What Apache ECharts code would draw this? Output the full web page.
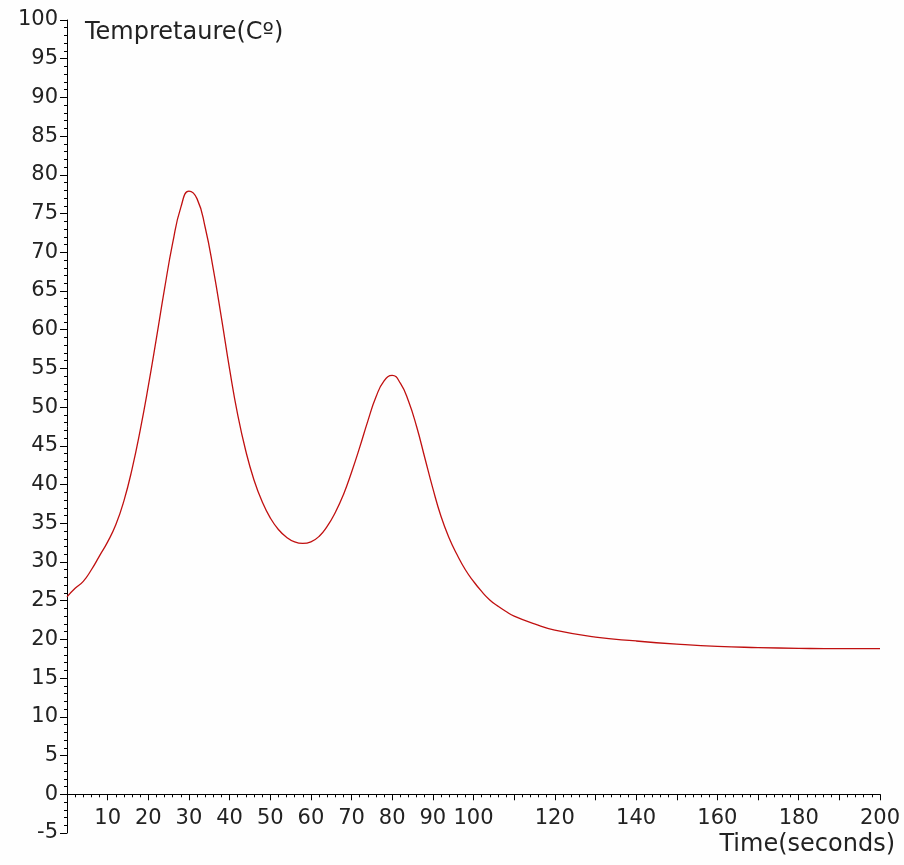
<!DOCTYPE html>
<html>
<head>
<meta charset="utf-8">
<script src="https://cdn.jsdelivr.net/npm/echarts@6/dist/echarts.min.js"></script>
<style>
html,body{margin:0;padding:0;background:#fefefe;}
#chart{width:904px;height:865px;}
</style>
</head>
<body>
<div id="chart"></div>
<script>
const times = [0,2,4,6,8,10,12,14,16,18,20,22,24,26,28,30,32,34,36,38,40,42,44,46,48,50,52,54,56,58,60,62,64,66,68,70,72,74,76,78,80,82,84,86,88,90,92,94,96,98,100,102,104,106,108,110,115,120,130,140,150,160,170,180,190,200];
const temps = [25.5,26.6,27.5,29.0,30.8,32.6,34.8,37.9,42.0,47.0,52.7,58.9,65.3,71.2,75.8,77.9,76.9,73.2,67.8,61.5,54.9,49.0,44.3,40.6,37.8,35.7,34.2,33.2,32.6,32.4,32.6,33.3,34.6,36.4,38.7,41.6,44.8,48.2,51.3,53.4,54.1,53.1,50.8,47.5,43.5,39.5,35.9,33.1,30.9,29.0,27.5,26.2,25.1,24.3,23.6,23.0,22.0,21.2,20.3,19.8,19.4,19.1,18.95,18.85,18.8,18.8];
const xLabels = [10,20,30,40,50,60,70,80,90,100,120,140,160,180,200];
const yTitle = 'Tempretaure(Cº)';
const xTitle = 'Time(seconds)';

const FONT = 'DejaVu Sans';
const labelFmt = v => xLabels.indexOf(v) >= 0 ? String(v) : '';

const chart = echarts.init(document.getElementById('chart'));
chart.setOption({
  backgroundColor: '#fefefe',
  animation: false,
  title: [
    {text: yTitle, left: 80, top: 16, textStyle: {fontFamily: FONT, fontSize: 24, fontWeight: 'normal', color: '#222'}},
    {text: xTitle, right: 4, top: 828, textStyle: {fontFamily: FONT, fontSize: 24, fontWeight: 'normal', color: '#222'}}
  ],
  grid: {left: 67, right: 24, top: 20, bottom: 32, containLabel: false, outerBoundsMode: 'none'},
  xAxis: {
    type: 'value', min: 0, max: 200, interval: 10,
    axisLine: {onZero: true, lineStyle: {color: '#000', width: 1}},
    axisTick: {show: true, length: 6, lineStyle: {color: '#000'}},
    minorTick: {show: true, splitNumber: 5, length: 3, lineStyle: {color: '#000'}},
    splitLine: {show: false},
    axisLabel: {fontFamily: FONT, fontSize: 21, color: '#222', margin: -25, formatter: labelFmt}
  },
  yAxis: {
    type: 'value', min: -5, max: 100, interval: 5,
    axisLine: {show: true, onZero: false, lineStyle: {color: '#000', width: 1}},
    axisTick: {show: true, length: 7, lineStyle: {color: '#000'}},
    minorTick: {show: true, splitNumber: 5, length: 3, lineStyle: {color: '#000'}},
    splitLine: {show: false},
    axisLabel: {fontFamily: FONT, fontSize: 21, color: '#222', margin: 9}
  },
  series: [{
    type: 'line',
    data: times.map((t, i) => [t, temps[i]]),
    smooth: true,
    showSymbol: false,
    lineStyle: {color: '#c01010', width: 1.3}
  }]
});
</script>
</body>
</html>
